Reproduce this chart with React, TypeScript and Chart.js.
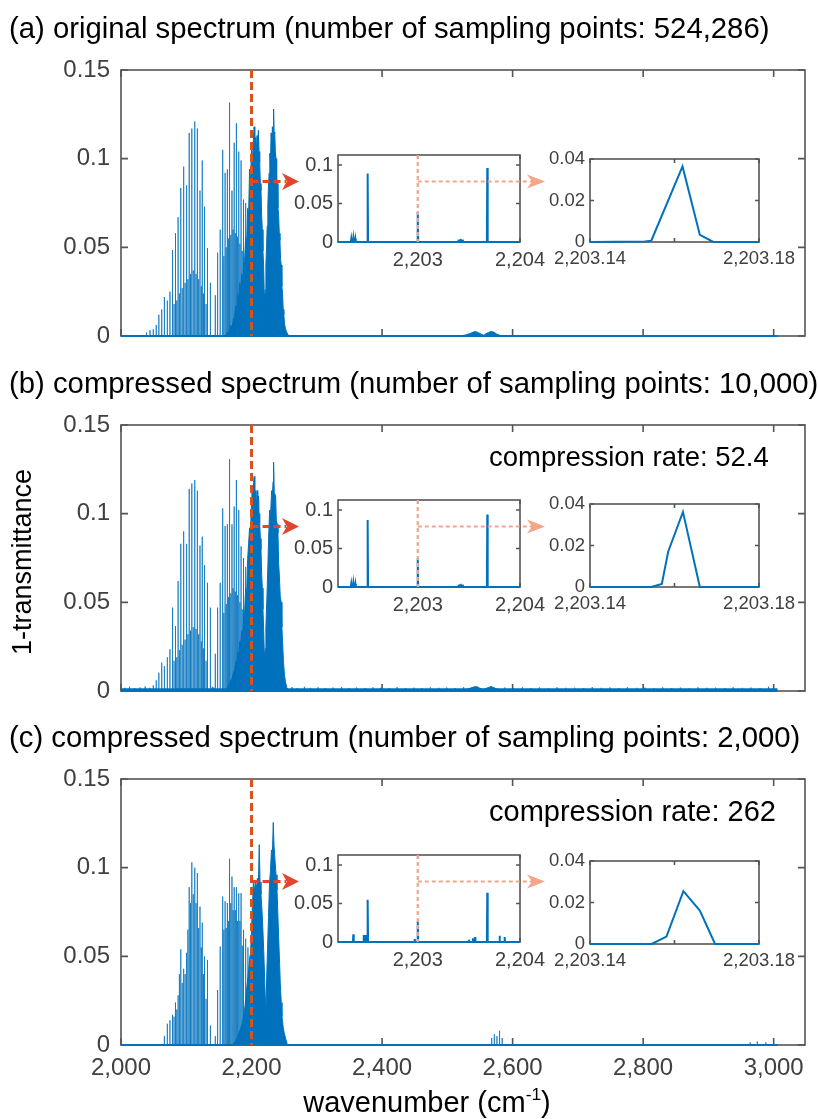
import React, { useEffect, useRef } from "react";
import { Chart, registerables } from "chart.js";
Chart.register(...registerables);

const FONT = "'Liberation Sans', Arial, Helvetica, sans-serif";
const BLUE = "#0072BD";
const LINE_BLUE = "rgba(0,114,189,0.72)";
const ORANGE = "#D95319";
const RED = "#E3442C";
const SALMON = "#F4A58A";
const TICK_COLOR = "#404040";
const FRAME_COLOR = "#555555";

// ---------------- data ----------------
const X_TICKS = [2000, 2200, 2400, 2600, 2800, 3000];
const X_TICK_LABELS = ["2,000", "2,200", "2,400", "2,600", "2,800", "3,000"];
const Y_TICKS = [0, 0.05, 0.1, 0.15];
const Y_TICK_LABELS = ["0", "0.05", "0.1", "0.15"];
const X_RANGE = [2000, 3048];
const Y_RANGE = [0, 0.15];
const BASE_RANGE = [2000, 3006];
const MARK_WN = 2200;

const TITLES = [
  "(a) original spectrum (number of sampling points: 524,286)",
  "(b) compressed spectrum (number of sampling points: 10,000)",
  "(c) compressed spectrum (number of sampling points: 2,000)",
];
const RATE_TEXT = ["", "compression rate: 52.4", "compression rate: 262"];

// resolved lines (wavenumber) and their peak heights in each panel
const LINE_WN = [
  2034, 2039, 2044.5, 2049.5, 2054, 2058, 2062.4, 2066.5, 2071, 2075,
  2079, 2083.5, 2087.5, 2091.6, 2096, 2100.5, 2104.5, 2108.5, 2113, 2117,
  2121, 2124.5, 2128, 2132.5, 2137, 2144.5, 2148, 2152, 2155.8, 2159.5,
  2163, 2166.3, 2170, 2173.4, 2176.8, 2180.4, 2184, 2187.7, 2191, 2194.5, 2198,
];
const LINE_H_A = [
  0.0006, 0.002, 0.0034, 0.0038, 0.0062, 0.012, 0.015, 0.022, 0.02, 0.025,
  0.0485, 0.058, 0.067, 0.0835, 0.0955, 0.085, 0.1145, 0.117, 0.121, 0.117,
  0.082, 0.099, 0.073, 0.0496, 0.03, 0.023, 0.047, 0.06, 0.105, 0.092,
  0.094, 0.1316, 0.082, 0.109, 0.12, 0.104, 0.099, 0.077, 0.075, 0.069, 0.06,
];
const LINE_H_B = [
  0, 0, 0.001, 0.0032, 0.006, 0.0103, 0.016, 0.014, 0.019, 0.0235,
  0.047, 0.0366, 0.062, 0.083, 0.09, 0.083, 0.114, 0.117, 0.119, 0.113,
  0.082, 0.087, 0.071, 0.061, 0.047, 0.021, 0.047, 0.061, 0.103, 0.093,
  0.094, 0.1307, 0.094, 0.104, 0.119, 0.102, 0.0816, 0.075, 0.07, 0.065, 0.06,
];
const LINE_H_C = [
  0, 0, 0, 0, 0, 0, 0, 0.005, 0.012, 0.014,
  0.017, 0.024, 0.028, 0.054, 0.043, 0.052, 0.089, 0.103, 0.1, 0.097,
  0.078, 0.069, 0.05, 0.048, 0.011, 0.005, 0.031, 0.0555, 0.0837, 0.081,
  0.08, 0.105, 0.095, 0.089, 0.089, 0.0856, 0.0856, 0.065, 0.06, 0.055, 0.05,
];
// weaker interleaved lines
const WEAK_WN = [
  2081.3, 2085.5, 2089.5, 2093.8, 2098.2, 2102.5, 2106.5, 2110.7, 2115, 2119, 2123,
  2126.3, 2130.3, 2157.6, 2161.2, 2164.6, 2168.2, 2171.7, 2175.1, 2178.6, 2182.2, 2185.8,
];
const WEAK_H_A = [
  0.018, 0.02, 0.024, 0.027, 0.03, 0.032, 0.035, 0.037, 0.035, 0.032, 0.028,
  0.024, 0.018, 0.045, 0.05, 0.055, 0.057, 0.06, 0.058, 0.056, 0.052, 0.048,
];
const WEAK_H_B = [
  0.017, 0.019, 0.023, 0.026, 0.029, 0.032, 0.034, 0.036, 0.035, 0.032, 0.028,
  0.024, 0.017, 0.044, 0.049, 0.053, 0.055, 0.058, 0.056, 0.054, 0.05, 0.046,
];
const WEAK_H_C = [
  0.016, 0.02, 0.04, 0.035, 0.04, 0.065, 0.08, 0.085, 0.08, 0.066, 0.055,
  0.04, 0.026, 0.065, 0.066, 0.07, 0.08, 0.076, 0.076, 0.07, 0.07, 0.056,
];

// dense band (wavenumber, envelope height)
const DENSE_A: [number, number][] = [
  [2160, 0], [2163, 0.002], [2166, 0.003], [2168, 0.006], [2170, 0.005], [2172, 0.009], [2174, 0.011],
  [2176, 0.017], [2177.5, 0.014], [2179, 0.024], [2180.5, 0.021], [2182, 0.03], [2183.5, 0.026],
  [2185, 0.035], [2186.5, 0.031], [2188, 0.04], [2189.5, 0.044], [2191, 0.056], [2192.5, 0.052],
  [2194, 0.072], [2195.5, 0.068], [2197, 0.094], [2198.5, 0.088], [2200, 0.105], [2201.5, 0.099],
  [2203, 0.112], [2204, 0.118], [2205, 0.104], [2206.5, 0.112], [2207.5, 0.105], [2208.5, 0.113],
  [2209.5, 0.107], [2210.5, 0.116], [2211.5, 0.104], [2212.5, 0.098], [2213.5, 0.086], [2214.5, 0.082],
  [2215.5, 0.068], [2216.5, 0.06], [2217.5, 0.048], [2218.5, 0.04], [2219.5, 0.024], [2220.3, 0.014],
  [2221, 0.026], [2222, 0.04], [2223, 0.05], [2224, 0.062], [2225, 0.074], [2226, 0.085], [2227, 0.092],
  [2228, 0.103], [2229, 0.098], [2230, 0.1145], [2231, 0.108], [2232, 0.118], [2233, 0.112],
  [2233.8, 0.128], [2234.6, 0.114], [2235.5, 0.115], [2236.5, 0.104], [2237.5, 0.1], [2238.5, 0.088],
  [2239.5, 0.086], [2240.5, 0.072], [2241.5, 0.068], [2242.5, 0.058], [2243.5, 0.054], [2244.5, 0.043],
  [2245.5, 0.04], [2246.5, 0.028], [2247.5, 0.024], [2248.5, 0.015], [2249.5, 0.012], [2250.5, 0.007],
  [2252, 0.004], [2254, 0.002], [2257, 0],
];
const DENSE_B: [number, number][] = [
  [2160, 0], [2163, 0.002], [2166, 0.004], [2168, 0.006], [2170, 0.007], [2172, 0.01], [2174, 0.012],
  [2176, 0.017], [2177.5, 0.015], [2179, 0.022], [2180.5, 0.02], [2182, 0.028], [2183.5, 0.027],
  [2185, 0.034], [2186.5, 0.032], [2188, 0.042], [2189.5, 0.046], [2191, 0.058], [2192.5, 0.054],
  [2194, 0.074], [2195.5, 0.083], [2197, 0.092], [2198.5, 0.09], [2200, 0.108], [2200.6, 0.115],
  [2202, 0.11], [2203, 0.116], [2204, 0.121], [2205, 0.106], [2206.5, 0.113], [2207.5, 0.104],
  [2208.5, 0.113], [2209.5, 0.106], [2210.8, 0.11], [2211.5, 0.1], [2212.5, 0.095], [2213.5, 0.086],
  [2214.5, 0.08], [2215.5, 0.066], [2216.5, 0.058], [2217.5, 0.046], [2218.5, 0.036], [2219.5, 0.022],
  [2220.3, 0.016], [2221, 0.024], [2222, 0.036], [2223.6, 0.053], [2225, 0.07], [2226, 0.084],
  [2227.7, 0.102], [2229, 0.098], [2230.8, 0.113], [2232, 0.11], [2233, 0.118], [2233.8, 0.129],
  [2234.8, 0.112], [2236.9, 0.11], [2238, 0.096], [2239.5, 0.094], [2240.5, 0.089], [2241.5, 0.072],
  [2242.5, 0.066], [2244, 0.053], [2245.5, 0.05], [2246.5, 0.036], [2247.5, 0.028], [2249, 0.016],
  [2250.5, 0.009], [2252, 0.005], [2254, 0.002], [2257, 0],
];
const DENSE_C: [number, number][] = [
  [2170, 0], [2175, 0.002], [2178, 0.004], [2181, 0.007], [2184, 0.01], [2186, 0.013], [2188, 0.016],
  [2190, 0.022], [2192, 0.03], [2193.5, 0.035], [2195, 0.04], [2197, 0.048], [2198.5, 0.052],
  [2200, 0.065], [2201.5, 0.08], [2203, 0.093], [2204.5, 0.086], [2206, 0.092], [2207.5, 0.088],
  [2209, 0.094], [2210.5, 0.09], [2211.8, 0.113], [2213, 0.092], [2214.5, 0.085], [2216, 0.076],
  [2217.5, 0.064], [2219, 0.05], [2220.5, 0.032], [2222, 0.018], [2223, 0.035], [2224.5, 0.054],
  [2226, 0.072], [2227.5, 0.091], [2229, 0.098], [2230.5, 0.11], [2232, 0.108], [2233.3, 0.1255],
  [2234.5, 0.112], [2236, 0.104], [2237.5, 0.096], [2239, 0.0875], [2240.5, 0.072], [2241.5, 0.061],
  [2243, 0.046], [2244, 0.035], [2245.5, 0.024], [2246.6, 0.016], [2248.5, 0.01], [2250, 0.007],
  [2252, 0.004], [2255, 0],
];
// weak band near 2,550
const BUMP_A: [number, number][] = [
  [2520, 0], [2528, 0.0006], [2535, 0.0014], [2540, 0.0022], [2543, 0.0025], [2547, 0.002],
  [2552, 0.001], [2556, 0.0004], [2559, 0.0012], [2563, 0.002], [2567, 0.0025], [2571, 0.0022],
  [2575, 0.0012], [2580, 0.0004], [2584, 0],
];
const BUMP_B: [number, number][] = [
  [2520, 0], [2528, 0.0008], [2535, 0.0016], [2540, 0.0022], [2543, 0.0025], [2547, 0.002],
  [2552, 0.0012], [2556, 0.0008], [2559, 0.0014], [2563, 0.002], [2567, 0.0024], [2571, 0.002],
  [2575, 0.0012], [2580, 0.0008], [2584, 0],
];
// reconstruction noise in (b)
const NOISE_FLOOR_B: [number, number][] = [[2000, 0.0012], [3006, 0.0012]];
const NOISE_B: [number, number][] = [
  [2006, 0.0018], [2013, 0.0024], [2021, 0.0016], [2029, 0.002], [2037, 0.0026], [2044, 0.0018],
  [2140, 0.0024], [2142, 0.002], [2262, 0.0022], [2270, 0.0017], [2281, 0.0024], [2290, 0.0018],
  [2302, 0.0021], [2313, 0.0016], [2325, 0.002], [2338, 0.0023], [2349, 0.0017], [2361, 0.002],
  [2374, 0.0017], [2386, 0.0021], [2398, 0.0018], [2411, 0.0016], [2423, 0.0022], [2436, 0.0017],
  [2449, 0.0019], [2461, 0.0016], [2474, 0.0021], [2487, 0.0018], [2499, 0.002], [2512, 0.0017],
  [2525, 0.0022], [2546, 0.0026], [2567, 0.0028], [2588, 0.002], [2601, 0.0017], [2615, 0.0021],
  [2628, 0.0017], [2641, 0.002], [2655, 0.0016], [2668, 0.0021], [2682, 0.0018], [2695, 0.0019],
  [2709, 0.0016], [2722, 0.0022], [2736, 0.0018], [2749, 0.002], [2763, 0.0017], [2776, 0.0021],
  [2790, 0.0018], [2803, 0.0019], [2817, 0.0016], [2830, 0.0021], [2844, 0.0017], [2857, 0.002],
  [2871, 0.0016], [2884, 0.0021], [2898, 0.0018], [2911, 0.0019], [2925, 0.0017], [2938, 0.0021],
  [2952, 0.0018], [2965, 0.002], [2979, 0.0017], [2992, 0.0024],
];
const SPIKES_C: [number, number][] = [
  [2568, 0.004], [2572, 0.006], [2576, 0.005], [2580, 0.008], [2584, 0.004],
  [2964, 0.0015], [2975, 0.002], [2988, 0.0015],
];

// first zoom (around 2,203 cm-1)
const Z1_RANGE = [2202.22, 2204.0];
const Z1_Y_MAX = 0.113;
const Z1_X_TICKS = [2203, 2204];
const Z1_X_LABELS = ["2,203", "2,204"];
const Z1_Y_TICKS = [0, 0.05, 0.1];
const Z1_Y_LABELS = ["0", "0.05", "0.1"];
const Z1_MARK = 2203.0;
const Z1_PEAKS_A: [number, number][] = [
  [2202.35, 0.004], [2202.37, 0.005], [2202.39, 0.004], [2202.51, 0.089], [2203.0, 0.039],
  [2203.4, 0.003], [2203.42, 0.004], [2203.44, 0.003], [2203.68, 0.096],
];
const Z1_PEAKS_B: [number, number][] = [
  [2202.35, 0.004], [2202.37, 0.005], [2202.39, 0.004], [2202.51, 0.087], [2203.0, 0.037],
  [2203.4, 0.003], [2203.42, 0.004], [2203.44, 0.003], [2203.68, 0.094],
];
const Z1_PEAKS_C: [number, number][] = [
  [2202.37, 0.01], [2202.47, 0.009], [2202.49, 0.009], [2202.51, 0.055], [2202.97, 0.004],
  [2203.0, 0.027], [2203.5, 0.003], [2203.54, 0.005], [2203.56, 0.0064], [2203.68, 0.064],
  [2203.8, 0.008], [2203.85, 0.0064],
];

// second zoom (single line)
const Z2_RANGE = [2203.14, 2203.18];
const Z2_Y_MAX = 0.04;
const Z2_X_TICKS = [2203.14, 2203.16, 2203.18];
const Z2_X_LABELS = ["2,203.14", "", "2,203.18"];
const Z2_Y_TICKS = [0, 0.02, 0.04];
const Z2_Y_LABELS = ["0", "0.02", "0.04"];
const Z2_A: [number, number][] = [
  [2203.14, 0], [2203.153, 0.0002], [2203.1545, 0.0006], [2203.1619, 0.0364],
  [2203.166, 0.0034], [2203.1692, 0], [2203.18, 0],
];
const Z2_B: [number, number][] = [
  [2203.14, 0], [2203.1545, 0], [2203.157, 0.0015], [2203.1585, 0.017],
  [2203.162, 0.0362], [2203.166, 0], [2203.18, 0],
];
const Z2_C: [number, number][] = [
  [2203.14, 0], [2203.1546, 0], [2203.1581, 0.0036], [2203.1621, 0.0255],
  [2203.166, 0.0161], [2203.1696, 0], [2203.18, 0],
];

// ---------------- layout ----------------
const PLOT_LEFT = 121;
const PLOT_RIGHT = 805;
const PLOT_H = 266;
const PAD_TOP = 30;
const IN_PAD_TOP = 22;
const Z1_LEFT = 338, Z1_W = 182, Z1_H = 87;
const Z2_LEFT = 590, Z2_W = 169, Z2_H = 83;
const ARROW_DY = 26.5;
const RED_TIP = 299;
const SALMON_TIP = 545;

const PANELS = [
  { plotTop: 70, lines: LINE_H_A, weak: WEAK_H_A, dense: DENSE_A, fills: [BUMP_A], spikes: [] as [number, number][], z1: Z1_PEAKS_A, z2: Z2_A, z1Top: 155, z2Top: 159, showX: false, rateSize: 27.5 },
  { plotTop: 425, lines: LINE_H_B, weak: WEAK_H_B, dense: DENSE_B, fills: [BUMP_B, NOISE_FLOOR_B], spikes: NOISE_B, z1: Z1_PEAKS_B, z2: Z2_B, z1Top: 500, z2Top: 504, showX: false, rateSize: 27.5 },
  { plotTop: 779, lines: LINE_H_C, weak: WEAK_H_C, dense: DENSE_C, fills: [] as [number, number][][], spikes: SPIKES_C, z1: Z1_PEAKS_C, z2: Z2_C, z1Top: 855, z2Top: 861, showX: true, rateSize: 29 },
];

type Pt = { x: number; y: number };

function spikePoints(items: [number, number][], halfW = 0): Pt[] {
  const sorted = items.filter((p) => p[1] > 0).sort((a, b) => a[0] - b[0]);
  const pts: Pt[] = [];
  for (const [w, h] of sorted) {
    pts.push({ x: w - halfW, y: 0 }, { x: w, y: h }, { x: w + halfW, y: 0 });
  }
  return pts;
}

function framePlugin(xt: number[], yt: number[], tl: number, lw: number) {
  return {
    id: "frame",
    beforeDatasetsDraw(chart: any) {
      const { ctx, chartArea: a, scales } = chart;
      ctx.save();
      ctx.fillStyle = "#ffffff";
      ctx.fillRect(a.left, a.top, a.right - a.left, a.bottom - a.top);
      ctx.strokeStyle = FRAME_COLOR;
      ctx.lineWidth = lw;
      ctx.strokeRect(a.left, a.top, a.right - a.left, a.bottom - a.top);
      ctx.beginPath();
      for (const v of xt) {
        const x = scales.x.getPixelForValue(v);
        ctx.moveTo(x, a.bottom);
        ctx.lineTo(x, a.bottom - tl);
        ctx.moveTo(x, a.top);
        ctx.lineTo(x, a.top + tl);
      }
      for (const v of yt) {
        const y = scales.y.getPixelForValue(v);
        ctx.moveTo(a.left, y);
        ctx.lineTo(a.left + tl, y);
        ctx.moveTo(a.right, y);
        ctx.lineTo(a.right - tl, y);
      }
      ctx.stroke();
      ctx.restore();
    },
  };
}

function arrowHead(ctx: CanvasRenderingContext2D, tx: number, y: number, len: number, half: number, color: string) {
  ctx.save();
  ctx.setLineDash([]);
  ctx.fillStyle = color;
  ctx.beginPath();
  ctx.moveTo(tx, y);
  ctx.lineTo(tx - len, y - half);
  ctx.lineTo(tx - len * 0.72, y);
  ctx.lineTo(tx - len, y + half);
  ctx.closePath();
  ctx.fill();
  ctx.restore();
}

function tickCfg(size: number, show: boolean, pad: number, ticks: number[], labels: string[]) {
  return {
    display: show,
    autoSkip: false,
    maxRotation: 0,
    minRotation: 0,
    padding: pad,
    color: TICK_COLOR,
    font: { family: FONT, size },
    callback: (v: any) => {
      const i = ticks.findIndex((t) => Math.abs(t - Number(v)) < 1e-9);
      return i >= 0 ? labels[i] : "";
    },
  };
}

function mainXH(showX: boolean) {
  return showX ? 50 : 30;
}

function makeMain(canvas: HTMLCanvasElement, p: (typeof PANELS)[number]) {
  const xH = mainXH(p.showX);
  const canvasTop = p.plotTop - PAD_TOP;
  const arrowY = p.z1Top + ARROW_DY - canvasTop;
  const items: [number, number][] = [
    ...LINE_WN.map((w, i) => [w, p.lines[i]] as [number, number]),
    ...WEAK_WN.map((w, i) => [w, p.weak[i]] as [number, number]),
    ...p.spikes,
  ];
  const datasets: any[] = [
    { data: spikePoints(items), borderColor: LINE_BLUE, borderWidth: 1, pointRadius: 0, fill: false, tension: 0, clip: 3 },
    { data: p.dense.map(([x, y]) => ({ x, y })), borderColor: BLUE, backgroundColor: BLUE, borderWidth: 1, pointRadius: 0, fill: "origin", tension: 0 },
    ...p.fills.map((f) => ({ data: f.map(([x, y]) => ({ x, y })), borderColor: BLUE, backgroundColor: BLUE, borderWidth: 1, pointRadius: 0, fill: "origin", tension: 0, clip: 3 })),
    { data: [{ x: BASE_RANGE[0], y: 0 }, { x: BASE_RANGE[1], y: 0 }], borderColor: BLUE, borderWidth: 2, pointRadius: 0, fill: false, clip: 3 },
  ];
  const marks = {
    id: "marks",
    afterDatasetsDraw(chart: any) {
      const { ctx, chartArea: a, scales } = chart;
      const xm = scales.x.getPixelForValue(MARK_WN);
      ctx.save();
      ctx.strokeStyle = ORANGE;
      ctx.lineWidth = 3;
      ctx.setLineDash([8, 4]);
      ctx.beginPath();
      ctx.moveTo(xm, a.top);
      ctx.lineTo(xm, a.bottom);
      ctx.stroke();
      ctx.strokeStyle = RED;
      ctx.lineWidth = 3;
      ctx.setLineDash([7, 4]);
      ctx.beginPath();
      ctx.moveTo(xm, arrowY);
      ctx.lineTo(RED_TIP - 13, arrowY);
      ctx.stroke();
      arrowHead(ctx, RED_TIP, arrowY, 17, 8.5, RED);
      ctx.restore();
    },
  };
  return new Chart(canvas, {
    type: "line",
    data: { datasets },
    options: {
      animation: false,
      responsive: false,
      events: [],
      layout: { padding: { top: PAD_TOP, right: 818 - PLOT_RIGHT, left: 0, bottom: 0 } },
      plugins: { legend: { display: false }, tooltip: { enabled: false } },
      scales: {
        x: {
          type: "linear",
          min: X_RANGE[0],
          max: X_RANGE[1],
          grid: { display: false, drawTicks: false },
          border: { display: false },
          ticks: tickCfg(24, p.showX, 9, X_TICKS, X_TICK_LABELS),
          afterBuildTicks: (s: any) => { s.ticks = X_TICKS.map((v) => ({ value: v })); },
          afterFit: (s: any) => { s.height = xH; },
        },
        y: {
          type: "linear",
          min: Y_RANGE[0],
          max: Y_RANGE[1],
          grid: { display: false, drawTicks: false },
          border: { display: false },
          ticks: tickCfg(24, true, 11, Y_TICKS, Y_TICK_LABELS),
          afterBuildTicks: (s: any) => { s.ticks = Y_TICKS.map((v) => ({ value: v })); },
          afterFit: (s: any) => { s.width = PLOT_LEFT; },
        },
      },
    } as any,
    plugins: [framePlugin(X_TICKS, Y_TICKS, 7, 1.6), marks],
  });
}

type InsetSpec = {
  range: number[]; yMax: number; xt: number[]; xl: string[]; yt: number[]; yl: string[];
  font: number; padRight: number; data: Pt[]; markWn?: number; arrowTipX?: number; canvasLeft: number;
};

function makeInset(canvas: HTMLCanvasElement, s: InsetSpec) {
  const marks = {
    id: "zmarks",
    afterDatasetsDraw(chart: any) {
      if (s.markWn === undefined) return;
      const { ctx, chartArea: a, scales } = chart;
      const xm = scales.x.getPixelForValue(s.markWn);
      const ay = a.top + ARROW_DY;
      const tip = (s.arrowTipX as number) - s.canvasLeft;
      ctx.save();
      ctx.strokeStyle = SALMON;
      ctx.lineWidth = 2.2;
      ctx.setLineDash([4, 3]);
      ctx.beginPath();
      ctx.moveTo(xm, a.top);
      ctx.lineTo(xm, a.bottom);
      ctx.moveTo(xm, ay);
      ctx.lineTo(tip - 13, ay);
      ctx.stroke();
      arrowHead(ctx, tip, ay, 18, 7, SALMON);
      ctx.restore();
    },
  };
  return new Chart(canvas, {
    type: "line",
    data: {
      datasets: [
        { data: s.data, borderColor: BLUE, borderWidth: 2, pointRadius: 0, fill: false, tension: 0, clip: 3 },
      ],
    },
    options: {
      animation: false,
      responsive: false,
      events: [],
      layout: { padding: { top: IN_PAD_TOP, right: s.padRight, left: 0, bottom: 0 } },
      plugins: { legend: { display: false }, tooltip: { enabled: false } },
      scales: {
        x: {
          type: "linear",
          min: s.range[0],
          max: s.range[1],
          grid: { display: false, drawTicks: false },
          border: { display: false },
          ticks: tickCfg(s.font, true, 6, s.xt, s.xl),
          afterBuildTicks: (sc: any) => { sc.ticks = s.xt.map((v) => ({ value: v })); },
          afterFit: (sc: any) => { sc.height = 34; },
        },
        y: {
          type: "linear",
          min: 0,
          max: s.yMax,
          grid: { display: false, drawTicks: false },
          border: { display: false },
          ticks: tickCfg(s.font, true, 5, s.yt, s.yl),
          afterBuildTicks: (sc: any) => { sc.ticks = s.yt.map((v) => ({ value: v })); },
          afterFit: (sc: any) => { sc.width = 60; },
        },
      },
    } as any,
    plugins: [framePlugin(s.xt, s.yt, 4, 1.6), marks],
  });
}

function CanvasBox(props: { left: number; top: number; width: number; height: number; make: (c: HTMLCanvasElement) => Chart }) {
  const ref = useRef<HTMLCanvasElement>(null);
  useEffect(() => {
    const ch = props.make(ref.current as HTMLCanvasElement);
    return () => ch.destroy();
  }, []);
  return (
    <canvas
      ref={ref}
      width={props.width}
      height={props.height}
      style={{ position: "absolute", left: props.left, top: props.top, width: props.width, height: props.height }}
    />
  );
}

export default function App() {
  const textBase: React.CSSProperties = { position: "absolute", fontFamily: FONT, color: "#000", whiteSpace: "nowrap" };
  return (
    <div style={{ position: "absolute", left: 0, top: 0, width: 818, height: 1119, background: "#fff", overflow: "hidden" }}>
      {PANELS.map((p, i) => {
        const z1Left = Z1_LEFT - 60;
        const z2Left = Z2_LEFT - 60;
        const z1Data: Pt[] = [
          { x: Z1_RANGE[0], y: 0 },
          ...spikePoints(p.z1, 0.004),
          { x: Z1_RANGE[1], y: 0 },
        ];
        return (
          <React.Fragment key={i}>
            <CanvasBox
              left={0}
              top={p.plotTop - PAD_TOP}
              width={818}
              height={PAD_TOP + PLOT_H + mainXH(p.showX)}
              make={(c) => makeMain(c, p)}
            />
            <CanvasBox
              left={z1Left}
              top={p.z1Top - IN_PAD_TOP}
              width={60 + Z1_W + 32}
              height={IN_PAD_TOP + Z1_H + 34}
              make={(c) =>
                makeInset(c, {
                  range: Z1_RANGE, yMax: Z1_Y_MAX, xt: Z1_X_TICKS, xl: Z1_X_LABELS, yt: Z1_Y_TICKS, yl: Z1_Y_LABELS,
                  font: 20, padRight: 32, data: z1Data, markWn: Z1_MARK, arrowTipX: SALMON_TIP, canvasLeft: z1Left,
                })
              }
            />
            <CanvasBox
              left={z2Left}
              top={p.z2Top - IN_PAD_TOP}
              width={60 + Z2_W + 46}
              height={IN_PAD_TOP + Z2_H + 34}
              make={(c) =>
                makeInset(c, {
                  range: Z2_RANGE, yMax: Z2_Y_MAX, xt: Z2_X_TICKS, xl: Z2_X_LABELS, yt: Z2_Y_TICKS, yl: Z2_Y_LABELS,
                  font: 18.5, padRight: 46, data: p.z2.map(([x, y]) => ({ x, y })), canvasLeft: z2Left,
                })
              }
            />
            <div style={{ ...textBase, left: 9, top: p.plotTop - 57.5, fontSize: 29.3, lineHeight: "29px" }}>{TITLES[i]}</div>
            {RATE_TEXT[i] ? (
              <div style={{ ...textBase, left: 489, top: p.plotTop + 32 - p.rateSize / 2, fontSize: p.rateSize, lineHeight: `${p.rateSize}px` }}>
                {RATE_TEXT[i]}
              </div>
            ) : null}
          </React.Fragment>
        );
      })}
      <div
        style={{
          ...textBase, left: 22 - 150, top: 562 - 15, width: 300, height: 30, lineHeight: "30px", fontSize: 27,
          textAlign: "center", transform: "rotate(-90deg)", transformOrigin: "50% 50%",
        }}
      >
        1-transmittance
      </div>
      <div style={{ ...textBase, left: 227, top: 1088, width: 400, textAlign: "center", fontSize: 29, lineHeight: "29px" }}>
        wavenumber (cm<sup style={{ fontSize: "0.6em", verticalAlign: "0.7em", lineHeight: 0 }}>-1</sup>)
      </div>
    </div>
  );
}
